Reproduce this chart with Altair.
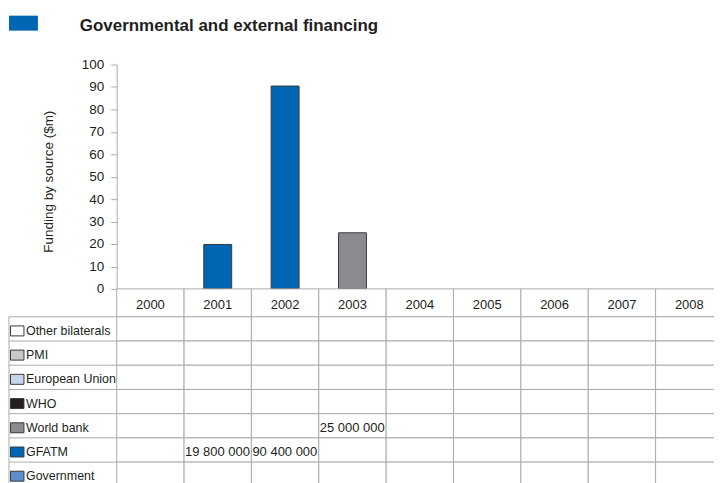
import altair as alt
import pandas as pd

# ---- data -------------------------------------------------------------
title_text = "Governmental and external financing"
years = ["2000", "2001", "2002", "2003", "2004", "2005", "2006", "2007", "2008"]
sources = ["Other bilaterals", "PMI", "European Union", "WHO",
           "World bank", "GFATM", "Government"]
source_colors = ["#ffffff", "#c8c8c8", "#c6d4ec", "#231f20",
                 "#8a8b8e", "#0066b3", "#5b8fcb"]

other_bilaterals = [0, 0, 0, 0, 0, 0, 0, 0, 0]
pmi = [0, 0, 0, 0, 0, 0, 0, 0, 0]
european_union = [0, 0, 0, 0, 0, 0, 0, 0, 0]
who = [0, 0, 0, 0, 0, 0, 0, 0, 0]
world_bank = [0, 0, 0, 25000000, 0, 0, 0, 0, 0]
gfatm = [0, 19800000, 90400000, 0, 0, 0, 0, 0, 0]
government = [0, 0, 0, 0, 0, 0, 0, 0, 0]

y_ticks = [0, 10, 20, 30, 40, 50, 60, 70, 80, 90, 100]
y_title = "Funding by source ($m)"

series = dict(zip(sources, [other_bilaterals, pmi, european_union, who,
                            world_bank, gfatm, government]))

rows = []
for s in sources:
    for yr, v in zip(years, series[s]):
        rows.append({"year": yr, "source": s, "value": v,
                     "amount": v / 1e6,
                     "label": f"{v:,}".replace(",", " ") if v > 0 else ""})
long_df = pd.DataFrame(rows)
bar_df = long_df[long_df["value"] > 0]
val_df = long_df[long_df["value"] > 0]
src_df = pd.DataFrame({"source": sources})
year_df = pd.DataFrame({"year": years})
one_df = pd.DataFrame({"t": [title_text]})

# ---- style ------------------------------------------------------------
FONT = "Liberation Sans, Arial, sans-serif"
TEXT = "#231f20"
GRID = "#ababab"
W = 608
H_TOP = 225
H_HDR = 28
H_TAB = 170

x_years = alt.X("year:N", scale=alt.Scale(domain=years, paddingInner=0, paddingOuter=0),
                axis=None)
color_enc = alt.Color("source:N", scale=alt.Scale(domain=sources, range=source_colors),
                      legend=None)

# ---- top: bars ----------------------------------------------------------
bars = alt.Chart(bar_df).mark_bar(size=28, stroke="#3a3a3a", strokeWidth=1).encode(
    x=x_years,
    y=alt.Y("amount:Q", scale=alt.Scale(domain=[0, 100]),
            axis=alt.Axis(values=y_ticks, title=y_title, grid=False,
                          tickSize=6, tickColor=GRID, domainColor=GRID,
                          labelPadding=7, labelFontSize=13.5, labelFont=FONT,
                          labelColor=TEXT, titleFont=FONT, titleFontSize=13.5,
                          titleFontWeight="normal", titleColor=TEXT,
                          titleBaseline="bottom", titleX=-61, titleY=117)),
    color=color_enc,
)
badge = alt.Chart(one_df).mark_rect(color="#0066b3").encode(
    x=alt.value(-108), x2=alt.value(-79), y=alt.value(-49), y2=alt.value(-34))
title = alt.Chart(one_df).mark_text(align="left", baseline="alphabetic", fontSize=17,
                                    fontWeight="bold", font=FONT, color=TEXT).encode(
    x=alt.value(-37), y=alt.value(-34), text="t:N")
top = alt.layer(bars, badge, title).properties(width=W, height=H_TOP)

# ---- header row -------------------------------------------------------------
hdr_cells = alt.Chart(year_df).mark_rect(fill="white", stroke=GRID, strokeWidth=1).encode(
    x=x_years, y=alt.value(0), y2=alt.value(H_HDR))
hdr_text = alt.Chart(year_df).mark_text(fontSize=13, font=FONT, color=TEXT,
                                        baseline="middle").encode(
    x=x_years, y=alt.value(H_HDR / 2 + 2.5), text="year:N")
header = alt.layer(hdr_cells, hdr_text).properties(width=W, height=H_HDR)

# ---- table ---------------------------------------------------------------
y_src = alt.Y("source:N", scale=alt.Scale(domain=sources, paddingInner=0, paddingOuter=0),
              axis=None)
cells = alt.Chart(long_df).mark_rect(fill="white", stroke=GRID, strokeWidth=1).encode(
    x=x_years, y=y_src)
row_lines = alt.Chart(src_df).mark_rule(color=GRID, strokeWidth=1).encode(
    x=alt.value(-108), x2=alt.value(0),
    y=alt.Y("source:N", bandPosition=0,
            scale=alt.Scale(domain=sources, paddingInner=0, paddingOuter=0), axis=None))
left_border = alt.Chart(one_df).mark_rule(color=GRID, strokeWidth=1).encode(
    x=alt.value(-108), y=alt.value(0), y2=alt.value(H_TAB))
swatches = alt.Chart(src_df).mark_rect(height=10, yOffset=2, stroke="#3a3a3a",
                                       strokeWidth=1).encode(
    x=alt.value(-106.5), x2=alt.value(-93), y=y_src, color=color_enc)
labels = alt.Chart(src_df).mark_text(align="left", baseline="middle", fontSize=12.5,
                                     font=FONT, color=TEXT, dy=2).encode(
    x=alt.value(-91), y=y_src, text="source:N")
values = alt.Chart(val_df).mark_text(align="left", baseline="middle", fontSize=13,
                                     font=FONT, color=TEXT, dx=1, dy=2).encode(
    x=alt.X("year:N", bandPosition=0,
            scale=alt.Scale(domain=years, paddingInner=0, paddingOuter=0), axis=None),
    y=y_src, text="label:N")
table = alt.layer(cells, row_lines, left_border, swatches, labels, values).properties(
    width=W, height=H_TAB)

chart = alt.vconcat(top, header, table, spacing=0, bounds="flush").properties(
    padding={"left": 0, "top": 7, "right": -10, "bottom": 0},
    background="white",
).configure_view(stroke=None)

chart.save("out.html", embed_options={"renderer": "svg", "actions": False})
